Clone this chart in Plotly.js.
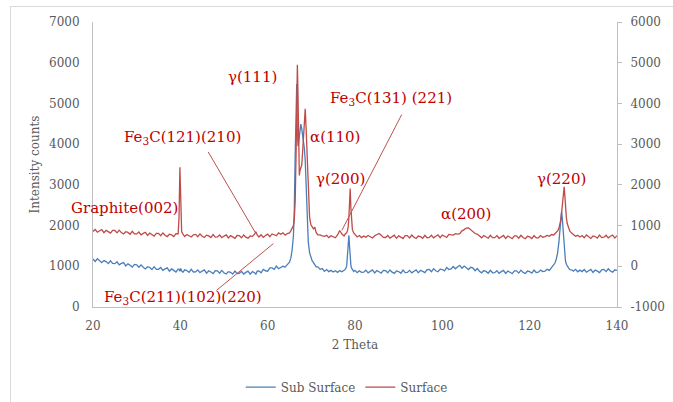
<!DOCTYPE html>
<html>
<head>
<meta charset="utf-8">
<script src="https://cdn.plot.ly/plotly-3.0.1.min.js"></script>
<style>
  html, body { margin: 0; padding: 0; background: #ffffff; }
  #wrap { position: relative; width: 673px; height: 402px; overflow: hidden; }
  #chart { position: absolute; left: 0; top: 0; width: 673px; height: 402px; }
  #frame { position: absolute; left: 10px; top: 6px; width: 720px; height: 460px;
           border: 1px solid #d9d9d9; pointer-events: none; }
</style>
</head>
<body>
<div id="wrap"><div id="chart"></div><div id="frame"></div></div>
<script>
// 2 Theta positions (shared by both series)
const twoTheta = [
  20,20.5,21,21.5,22,22.5,23,23.5,24,24.5,
  25,25.5,26,26.5,27,27.5,28,28.5,29,29.5,
  30,30.5,31,31.5,32,32.5,33,33.5,34,34.5,
  35,35.5,36,36.5,37,37.5,38,38.5,39,39.5,
  39.7,39.9,40.1,40.3,40.6,41,41.5,42,42.5,43,
  43.5,44,44.5,45,45.5,46,46.5,47,47.5,48,
  48.5,49,49.5,50,50.5,51,51.5,52,52.5,53,
  53.5,54,54.5,55,55.5,56,56.5,57,57.3,57.6,
  58,58.5,59,59.5,60,60.5,61,61.5,62,62.5,
  63,63.5,64,64.5,65,65.3,65.6,65.9,66.1,66.3,
  66.5,66.65,66.8,66.95,67.1,67.25,67.4,67.6,67.8,68,
  68.2,68.4,68.6,68.8,69,69.3,69.6,69.9,70.2,70.5,
  70.8,71.1,71.5,72,72.5,73,73.5,74,74.5,75,
  75.5,76,76.5,77,77.5,77.8,78.1,78.3,78.45,78.6,
  78.75,78.9,79.05,79.2,79.4,79.7,80,80.5,81,81.5,
  82,82.5,83,83.5,84,84.5,85,85.5,86,86.5,
  87,87.5,88,88.5,89,89.5,90,90.5,91,91.5,
  92,92.5,93,93.5,94,94.5,95,95.5,96,96.5,
  97,97.5,98,98.5,99,99.5,100,100.5,101,101.5,
  102,102.5,103,103.5,104,104.5,105,105.5,106,106.5,
  107,107.5,108,108.5,109,109.5,110,110.5,111,111.5,
  112,112.5,113,113.5,114,114.5,115,115.5,116,116.5,
  117,117.5,118,118.5,119,119.5,120,120.5,121,121.5,
  122,122.5,123,123.5,124,124.5,125,125.5,125.8,126.1,
  126.4,126.7,127,127.15,127.3,127.45,127.6,127.75,127.9,128.05,
  128.2,128.4,128.6,128.9,129.2,129.6,130,130.5,131,131.5,
  132,132.5,133,133.5,134,134.5,135,135.5,136,136.5,
  137,137.5,138,138.5,139,139.5,140
];

// Sub Surface intensity (left axis)
const subSurface = [
  1180,1120,1185,1125,1090,1140,1115,1065,1135,1070,
  1065,1110,1035,1070,1090,1010,1060,1025,980,1045,
  1035,975,1035,975,935,990,970,920,990,925,
  925,970,900,935,960,880,935,900,860,930,
  930,875,945,888,856,913,895,852,924,860,
  863,911,844,882,910,833,891,859,822,890,
  888,831,899,842,810,868,851,810,884,823,
  827,876,810,850,880,806,868,841,808,880,
  885,840,925,890,880,960,960,925,1005,940,
  975,1000,980,1030,1100,1200,1400,1750,2400,3700,
  4800,5480,4300,3950,4050,4250,4400,4490,4380,4250,
  4100,3900,3600,2850,2200,1600,1330,1200,1130,1090,
  1040,985,985,925,945,875,920,870,900,860,
  890,850,895,865,900,930,1010,1250,1550,1760,
  1500,1200,1030,960,920,870,900,845,890,850,
  855,905,840,880,910,835,895,865,830,900,
  895,840,910,855,825,885,870,830,905,845,
  850,900,838,880,912,840,903,875,843,916,
  920,868,942,890,865,930,920,887,970,920,
  935,995,940,990,1025,950,1005,965,920,975,
  960,890,945,880,840,895,875,830,902,840,
  843,893,828,868,898,823,883,853,818,888,
  888,833,905,850,822,882,869,830,906,848,
  855,905,870,880,925,900,980,1030,1080,1180,
  1330,1600,2000,2200,2335,2200,1950,1650,1400,1250,
  1130,1050,1000,960,920,915,880,925,865,905,
  870,920,855,895,925,850,910,880,845,915,
  925,870,940,885,855,915,900
];

// Surface intensity (right axis)
const surface = [
  855,903,836,874,902,825,883,851,814,882,
  880,821,887,828,794,850,831,787,858,794,
  795,841,772,808,835,757,814,781,743,810,
  808,751,819,762,730,788,771,729,802,800,
  1200,2430,1300,850,790,730,780,745,720,775,
  785,727,795,738,706,764,747,705,778,716,
  720,769,703,742,771,695,754,723,687,756,
  755,700,770,715,690,745,735,790,850,770,
  720,775,710,755,790,725,795,775,750,820,
  785,820,765,805,820,870,920,1000,1150,1600,
  2730,4000,4950,4200,3400,2230,2350,2420,2480,2800,
  3200,3600,3870,3400,2700,1750,1200,1020,950,920,
  960,830,770,770,745,735,760,705,750,720,
  700,770,880,790,745,800,820,880,980,1200,
  1500,1910,1450,1050,900,820,790,720,755,705,
  745,715,755,720,695,750,770,805,760,710,
  707,757,692,732,762,687,747,717,682,752,
  752,697,767,712,682,742,727,687,762,702,
  709,761,698,740,773,701,765,739,708,782,
  775,765,800,790,800,870,900,940,945,900,
  860,805,790,745,700,755,730,690,760,705,
  703,753,688,728,758,683,743,713,678,748,
  746,691,761,706,676,736,721,681,756,696,
  700,755,715,730,760,740,780,770,800,830,
  870,930,1050,1150,1300,1500,1750,1900,1950,1750,
  1450,1200,1050,930,860,815,780,735,760,720,
  755,700,770,715,685,745,730,690,765,705,
  713,763,698,738,768,693,753
];

const seriesNames = ['Sub Surface', 'Surface'];
const xTicks = [20, 40, 60, 80, 100, 120, 140];
const rightTicks = [-1000, 0, 1000, 2000, 3000, 4000, 5000, 6000];
const rightTickText = ['-1000', '0', '1000', '2000', '3000', '4000', '5000', '6000'];

// Peak labels: text, label position (2θ, left-axis counts)
const peakLabels = ['γ(111)', 'Fe<sub>3</sub>C(121)(210)', 'Fe<sub>3</sub>C(131) (221)', 'α(110)',
                    'γ(200)', 'Graphite(002)', 'Fe<sub>3</sub>C(211)(102)(220)', 'α(200)', 'γ(220)'];
const labelX = [56.6, 40.6, 88.2, 75.4, 76.6, 27.1, 40.6, 105.4, 127.4];
const labelY = [5650, 4151, 5119, 4176, 3154, 2442, 231, 2277, 3154];

// Leader lines: [x0, y0, x1, y1] in (2θ, left-axis counts)
const leaderLines = [
  [46.4, 3807, 57.1, 1842],
  [48.3, 410, 61.3, 1557],
  [90.7, 4726, 77.0, 1884]
];

const FONT = 'DejaVu Serif, serif';
const GREY = '#595959';
const AXIS = '#bfbfbf';
const LABEL_RED = '#C00000';

const traces = [
  { x: twoTheta, y: subSurface, name: seriesNames[0], type: 'scatter', mode: 'lines',
    line: { color: '#4a7ebb', width: 1.3 }, yaxis: 'y' },
  { x: twoTheta, y: surface, name: seriesNames[1], type: 'scatter', mode: 'lines',
    line: { color: '#be4b48', width: 1.3 }, yaxis: 'y2' }
];

const annotations = peakLabels.map((t, i) => ({
  text: t, x: labelX[i], y: labelY[i], xref: 'x', yref: 'y',
  showarrow: false, xanchor: 'center', yanchor: 'middle',
  font: { family: FONT, size: 15, color: LABEL_RED }
}));

const shapes = leaderLines.map(l => ({
  type: 'line', xref: 'x', yref: 'y', x0: l[0], y0: l[1], x1: l[2], y1: l[3],
  line: { color: '#c0504d', width: 1 }
}));

const layout = {
  width: 673, height: 402,
  margin: { l: 93, r: 56, t: 22, b: 95, pad: 0, autoexpand: false },
  paper_bgcolor: 'rgba(0,0,0,0)', plot_bgcolor: 'rgba(0,0,0,0)',
  font: { family: FONT, size: 12, color: GREY },
  showlegend: true,
  legend: { orientation: 'h', x: 0.282, xanchor: 'left', y: -0.281, yanchor: 'middle',
            font: { family: FONT, size: 12, color: GREY }, bgcolor: 'rgba(0,0,0,0)' },
  xaxis: { range: [20, 140], tickvals: xTicks, showgrid: false, zeroline: false, automargin: false,
           showline: true, linecolor: AXIS, linewidth: 1, ticks: '', ticklabelstandoff: 8,
           tickfont: { family: FONT, size: 12, color: GREY },
           title: { text: '2 Theta', font: { family: FONT, size: 12, color: GREY }, standoff: 8 } },
  yaxis: { range: [0, 7000], dtick: 1000, showgrid: false, zeroline: false, automargin: false,
           showline: true, linecolor: AXIS, linewidth: 1, ticks: '', ticklabelstandoff: 10,
           tickfont: { family: FONT, size: 12, color: GREY },
           title: { text: 'Intensity counts', font: { family: FONT, size: 12, color: GREY }, standoff: 6 } },
  yaxis2: { range: [-1000, 6000], tickvals: rightTicks, ticktext: rightTickText,
            overlaying: 'y', side: 'right', showgrid: false,
            zeroline: false, automargin: false, showline: true, linecolor: AXIS, linewidth: 1,
            ticks: 'outside', ticklen: 4, tickcolor: AXIS, ticklabelstandoff: 6,
            tickfont: { family: FONT, size: 12, color: GREY } },
  annotations: annotations,
  shapes: shapes
};

Plotly.newPlot('chart', traces, layout, { staticPlot: true, displayModeBar: false });
</script>
</body>
</html>
